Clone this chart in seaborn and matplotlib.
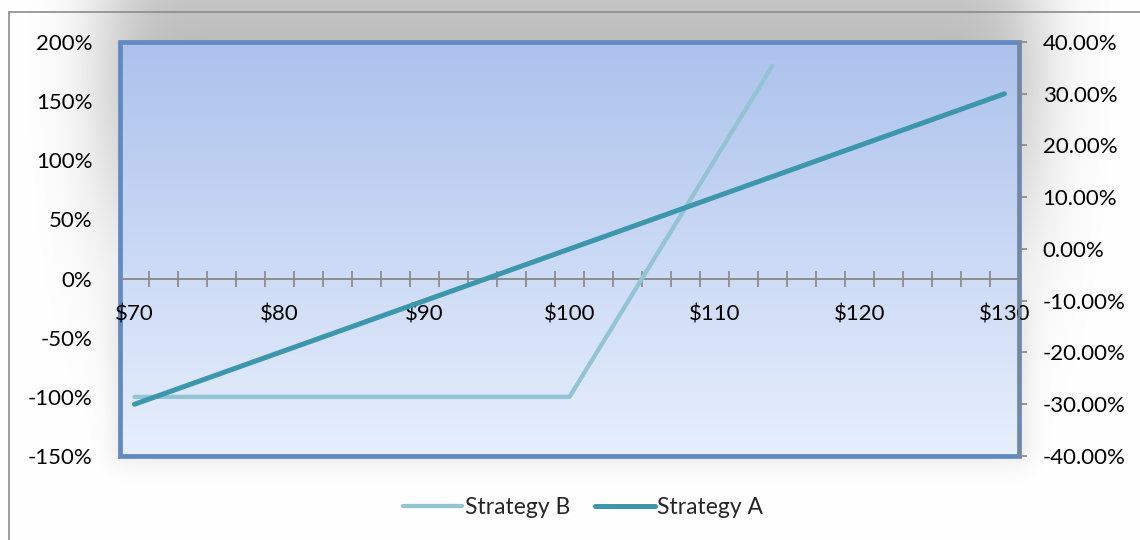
import numpy as np
import pandas as pd
import matplotlib
matplotlib.use("Agg")
import matplotlib.pyplot as plt
import seaborn as sns
from math import erf
from matplotlib.patches import Rectangle
from matplotlib.lines import Line2D
from matplotlib.ticker import FuncFormatter

# Data (price grid every $2)
price = [70, 72, 74, 76, 78, 80, 82, 84, 86, 88, 90, 92, 94, 96, 98, 100,
         102, 104, 106, 108, 110, 112, 114, 116, 118, 120, 122, 124, 126, 128, 130]
# Strategy B on the left axis (%), ends at $114
strategy_b = [-100, -100, -100, -100, -100, -100, -100, -100, -100, -100, -100,
              -100, -100, -100, -100, -100, -60, -20, 20, 60, 100, 140, 180]
# Strategy A on the right axis (%)
strategy_a = [-30, -28, -26, -24, -22, -20, -18, -16, -14, -12, -10, -8, -6, -4, -2,
              0, 2, 4, 6, 8, 10, 12, 14, 16, 18, 20, 22, 24, 26, 28, 30]
x_labels = ["$70", "$80", "$90", "$100", "$110", "$120", "$130"]

df_b = pd.DataFrame({"price": price[:len(strategy_b)], "ret": strategy_b})
df_a = pd.DataFrame({"price": price, "ret": strategy_a})

sns.set_style("white")
plt.rcParams["font.family"] = ["Lato", "DejaVu Sans"]

W, H = 1140, 540
fig = plt.figure(figsize=(W / 100, H / 100), dpi=100)

# -----------------------------
# chart-area background (soft gray shadow)
# -----------------------------
bg = fig.add_axes([0, 0, 1, 1], zorder=-10)
bg.set_axis_off()
verf = np.vectorize(erf)
xs = np.arange(W)
ys = np.arange(H)
sx = 0.5 * (verf((xs - 105) / (np.sqrt(2) * 35)) - verf((xs - 1035) / (np.sqrt(2) * 35)))
sy = 0.5 * (verf((ys + 50) / (np.sqrt(2) * 90)) - verf((ys - 200) / (np.sqrt(2) * 120)))
# faint shadow around the bottom of the plot area
sy2 = 0.5 * (verf((ys - 300) / (np.sqrt(2) * 20)) - verf((ys - 462) / (np.sqrt(2) * 10)))
sx2 = 0.5 * (verf((xs - 112) / (np.sqrt(2) * 10)) - verf((xs - 1028) / (np.sqrt(2) * 10)))
shade = 1 - 0.34 * np.outer(sy, sx) - 0.08 * np.outer(sy2, sx2)
img = np.dstack([shade, shade, shade]).clip(0, 1)
bg.imshow(img, extent=[0, 1, 0, 1], aspect="auto", transform=bg.transAxes)
bg.set_xlim(0, 1)
bg.set_ylim(0, 1)
bg.add_line(Line2D([9 / W, 9 / W], [0, 1 - 12 / H], color="#8c8c8c", lw=1.2,
                   transform=fig.transFigure))
bg.add_line(Line2D([9 / W, 1], [1 - 12 / H, 1 - 12 / H], color="#8c8c8c", lw=1.2,
                   transform=fig.transFigure))

# -----------------------------
# plot area
# -----------------------------
left, right, top, bottom = 120, 1019, 42, 456
ax = fig.add_axes([left / W, 1 - bottom / H, (right - left) / W, (bottom - top) / H])
ax.set_facecolor("none")
grad = np.linspace(0, 1, 256)[:, None]
c_top = np.array([0.675, 0.761, 0.925])
c_bot = np.array([0.906, 0.937, 0.992])
gimg = c_top[None, None, :] * (1 - grad[:, :, None]) + c_bot[None, None, :] * grad[:, :, None]
ax.imshow(gimg, extent=[0, 1, 0, 1], aspect="auto", transform=ax.transAxes, zorder=0)

# blue plot-area border
ax.add_patch(Rectangle((0, 0), 1, 1, transform=ax.transAxes, fill=False,
                       edgecolor="#6289c2", linewidth=3.4, zorder=0.5, clip_on=False))

ax2 = ax.twinx()

color_b = "#92c4d4"
color_a = "#3c97ad"
sns.lineplot(data=df_b, x="price", y="ret", ax=ax, color=color_b, linewidth=3.1,
             label="Strategy B", legend=False, zorder=3, solid_capstyle="round")
sns.lineplot(data=df_a, x="price", y="ret", ax=ax2, color=color_a, linewidth=3.6,
             label="Strategy A", legend=False, zorder=3, solid_capstyle="round")

ax.set_xlim(69, 131)
ax.set_ylim(-150, 200)
ax2.set_ylim(-40, 40)

ax.set_xlabel("")
ax.set_ylabel("")
ax2.set_ylabel("")

# x axis line through 0 on left scale
for s in ["top", "left", "right"]:
    ax.spines[s].set_visible(False)
ax.spines["bottom"].set_position(("data", 0))
ax.spines["bottom"].set_color("#868686")
ax.spines["bottom"].set_linewidth(1.3)
ax.spines["bottom"].set_zorder(2)

ax.set_xticks(range(70, 131, 10))
ax.set_xticklabels(x_labels)
ax.set_xticks(range(71, 131, 2), minor=True)
ax.tick_params(axis="x", which="both", bottom=True)
ax.tick_params(axis="x", which="major", length=0, pad=19, labelsize=16, colors="black")
ax.tick_params(axis="x", which="minor", length=12, direction="inout", color="#868686", width=1.2)

ax.set_yticks(range(-150, 201, 50))
ax.yaxis.set_major_formatter(FuncFormatter(lambda v, p: f"{v:.0f}%"))
ax.tick_params(axis="y", length=0, pad=20, labelsize=16, colors="black")

for s in ["top", "left", "bottom"]:
    ax2.spines[s].set_visible(False)
ax2.spines["right"].set_color("#868686")
ax2.spines["right"].set_linewidth(1.3)
ax2.set_yticks(range(-40, 41, 10))
ax2.yaxis.set_major_formatter(FuncFormatter(lambda v, p: f"{v:.2f}%"))
ax2.tick_params(axis="y", right=True, length=6, direction="out", color="#868686", width=1.2,
                pad=11, labelsize=16, labelcolor="black")

# legend
handles = [Line2D([], [], color=color_b, lw=3.1, solid_capstyle="round"),
           Line2D([], [], color=color_a, lw=3.6, solid_capstyle="round")]
fig.legend(handles, ["Strategy B", "Strategy A"], loc="center",
           bbox_to_anchor=(583 / W, 1 - 508 / H), ncol=2, frameon=False,
           fontsize=16.5, handlelength=2.6, handletextpad=0.1, columnspacing=1.1)

fig.savefig("out.png", dpi=100)
